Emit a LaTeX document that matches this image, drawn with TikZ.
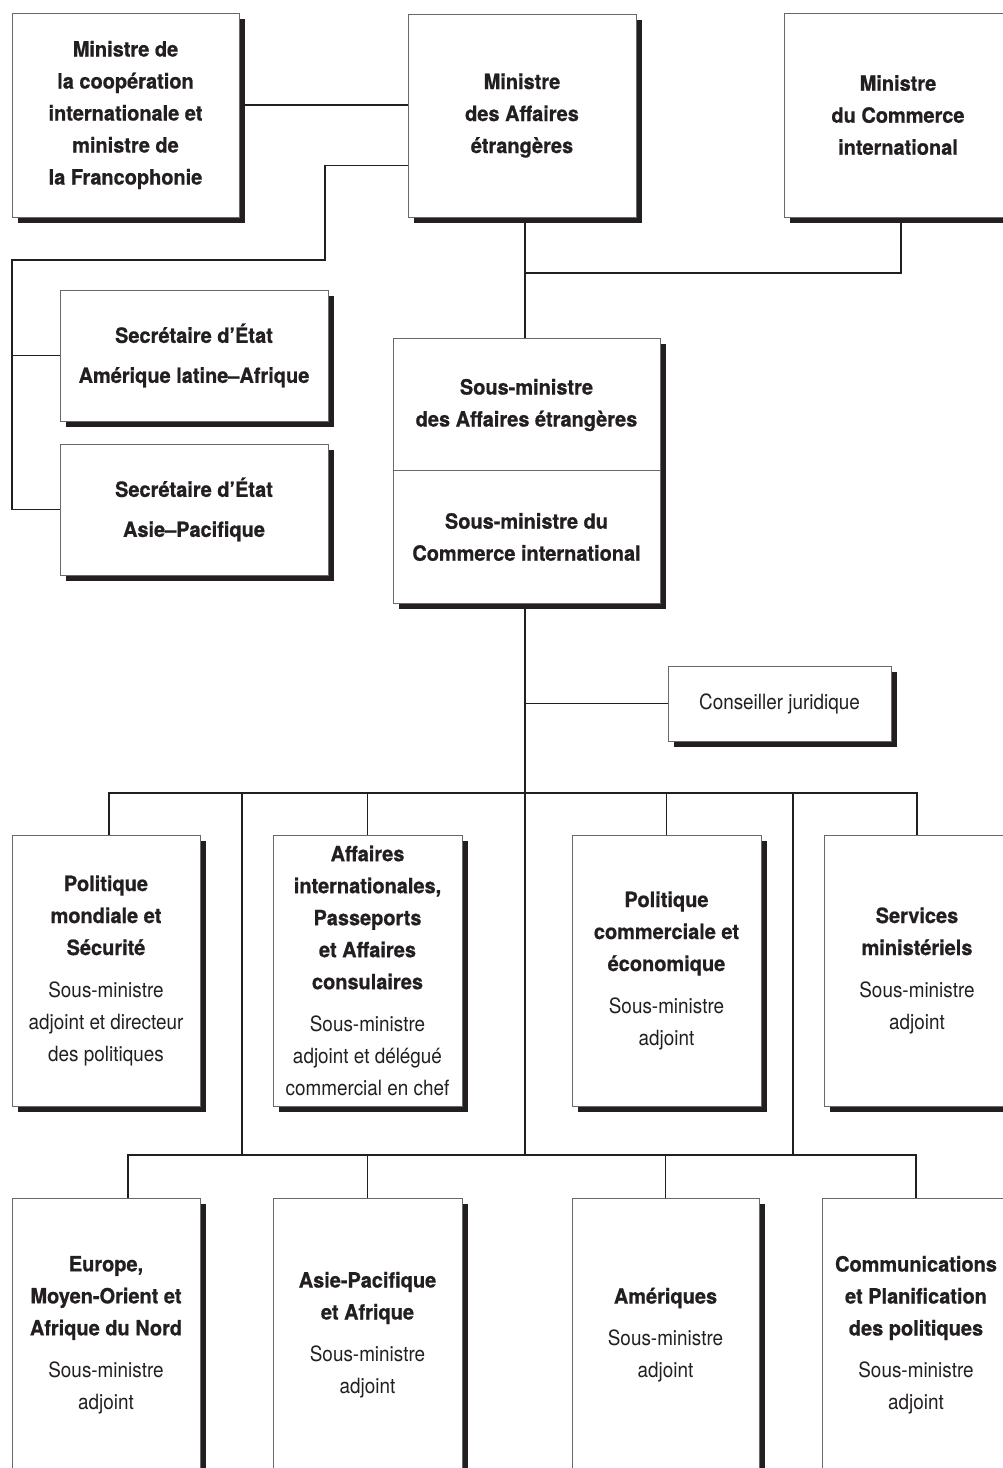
\documentclass[tikz,border=0pt]{standalone}
\usepackage{fontspec}
\setmainfont{TeX Gyre Heros}
\newfontfamily\bfnt[FakeStretch=0.95,FakeBold=0.8]{TeX Gyre Heros}
\newfontfamily\rgfnt[FakeStretch=0.9]{TeX Gyre Heros}
\usetikzlibrary{shadows,backgrounds}
\newcommand\BF{\bfnt\bfseries\fontsize{21}{32}\selectfont}
\newcommand\RG{\rgfnt\mdseries\fontsize{21}{32}\selectfont}
\definecolor{bordergray}{RGB}{105,105,105}
\definecolor{linecol}{RGB}{35,31,32}
\tikzset{
  orgbox/.style={draw=bordergray, line width=0.9pt, fill=white, inner sep=0pt,
    align=center, font=\BF, text=linecol,
    drop shadow={shadow xshift=6pt, shadow yshift=-6pt, fill=linecol, opacity=1}},
  conn/.style={draw=linecol, line width=1.5pt},
  txt/.style={align=center, font=\BF, text=linecol, inner sep=0pt}
}
\begin{document}
\begin{tikzpicture}[x=1pt,y=-1pt]
\useasboundingbox (0,0) rectangle (1003,1468);
% top row
\node[orgbox, minimum width=227, minimum height=204] (coop) at (125.5,115)
  {Ministre de\\la coopération\\internationale et\\ministre de\\la Francophonie};
\node[orgbox, minimum width=228, minimum height=203] (ae) at (522,115.5)
  {Ministre\\des Affaires\\étrangères};
\node[orgbox, minimum width=228, minimum height=204] (ci) at (898,115)
  {Ministre\\du Commerce\\international};
% secretaries
\node[orgbox, minimum width=268, minimum height=131] (sec1) at (194,355.5)
  {Secrétaire d’État\\[8pt]Amérique latine–Afrique};
\node[orgbox, minimum width=268, minimum height=131] (sec2) at (194,509.5)
  {Secrétaire d’État\\[8pt]Asie–Pacifique};
% deputy ministers
\node[orgbox, minimum width=267, minimum height=265] (sm) at (526.5,470.5) {};
\draw[draw=bordergray, line width=0.9pt] (sm.west) -- (sm.east);
\node[txt] (smA) at (526.5,405) {Sous-ministre\\des Affaires étrangères};
\node[txt] (smB) at (526.5,537) {Sous-ministre du\\Commerce international};
% legal
\node[orgbox, minimum width=223, minimum height=75, font=\RG] (cj) at (779.5,703.5)
  {Conseiller juridique};
% row 1
\node[orgbox, minimum width=188, minimum height=271] (A) at (106,970.5)
  {Politique\\mondiale et\\Sécurité\\[10pt]\RG Sous-ministre\\\RG adjoint et directeur\\\RG des politiques};
\node[orgbox, minimum width=189, minimum height=271] (B) at (367.5,970.5)
  {Affaires\\internationales,\\Passeports\\et Affaires\\consulaires\\[10pt]\RG Sous-ministre\\\RG adjoint et délégué\\\RG commercial en chef};
\node[orgbox, minimum width=189, minimum height=271] (C) at (666.5,970.5)
  {Politique\\commerciale et\\économique\\[10pt]\RG Sous-ministre\\\RG adjoint};
\node[orgbox, minimum width=186, minimum height=271] (D) at (917,970.5)
  {Services\\ministériels\\[10pt]\RG Sous-ministre\\\RG adjoint};
% row 2
\node[orgbox, minimum width=188, minimum height=274] (E) at (106,1335)
  {Europe,\\Moyen-Orient et\\Afrique du Nord\\[10pt]\RG Sous-ministre\\\RG adjoint};
\node[orgbox, minimum width=189, minimum height=274] (F) at (367.5,1335)
  {Asie-Pacifique\\et Afrique\\[10pt]\RG Sous-ministre\\\RG adjoint};
\node[orgbox, minimum width=187, minimum height=274] (G) at (665.5,1335)
  {Amériques\\[10pt]\RG Sous-ministre\\\RG adjoint};
\node[orgbox, minimum width=188, minimum height=274] (H) at (916,1335)
  {Communications\\et Planification\\des politiques\\[10pt]\RG Sous-ministre\\\RG adjoint};
% coordinates
\coordinate (j1) at (325,260);
\coordinate (j2) at (12,260);
\coordinate (jm) at (525,273);
\coordinate (b1) at (525,793);
\coordinate (b2) at (525,1155);
\coordinate (l1) at (242,793);
\coordinate (l2) at (242,1155);
\coordinate (r1) at (793,793);
\coordinate (r2) at (793,1155);
\begin{scope}[on background layer]
\draw[conn] ([yshift=10pt]coop.east) -- ([yshift=10pt]coop.east -| ae.west);
\draw[conn] ([yshift=-50pt]ae.west) -| (j1) -- (j2) |- (sec2.west);
\draw[conn] (j2 |- sec1.west) -- (sec1.west);
\draw[conn] (ae.south -| jm) -- (sm.north -| jm);
\draw[conn] (jm) -| ([xshift=3pt]ci.south);
\draw[conn] (sm.south -| b1) -- (b2);
\draw[conn] (cj.west -| b1) -- (cj.west);
\draw[conn] ([xshift=3pt]A.north) |- (b1) -| (D.north);
\draw[conn] (B.north) -- (B.north |- b1);
\draw[conn] (C.north) -- (C.north |- b1);
\draw[conn] (l1) -- (l2);
\draw[conn] (r1) -- (r2);
\draw[conn] ([xshift=22pt]E.north) |- (b2) -| (H.north);
\draw[conn] (F.north) -- (F.north |- b2);
\draw[conn] (G.north) -- (G.north |- b2);
\end{scope}
\end{tikzpicture}
\end{document}
